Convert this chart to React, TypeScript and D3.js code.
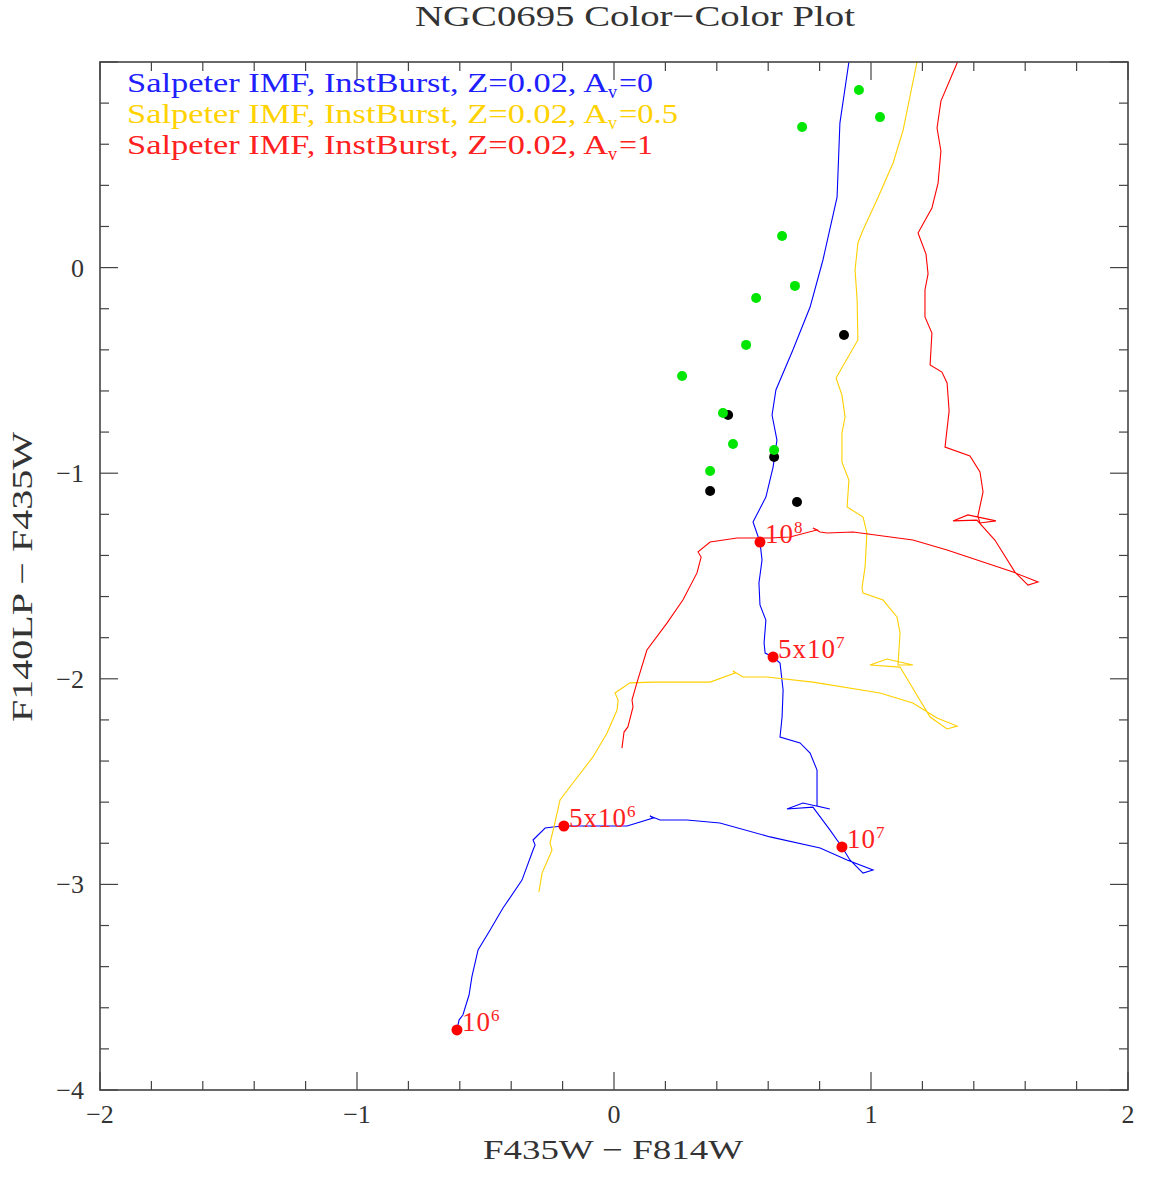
import React from "react";
import * as d3 from "d3";

// Starburst99-style colour tracks, instantaneous burst, Salpeter IMF, Z=0.02
// [F435W-F814W, F140LP-F435W]
const trackAv0: [number, number][] = [
  [-0.607, -3.728], [-0.611, -3.708], [-0.603, -3.66], [-0.588, -3.635], [-0.564, -3.538],
  [-0.553, -3.45], [-0.529, -3.319], [-0.482, -3.222], [-0.432, -3.115], [-0.358, -2.979],
  [-0.315, -2.833], [-0.307, -2.808], [-0.315, -2.784], [-0.268, -2.726], [-0.237, -2.721],
  [-0.195, -2.716], [0.051, -2.716], [0.152, -2.677], [0.14, -2.667], [0.179, -2.687],
  [0.284, -2.687], [0.412, -2.701], [0.607, -2.769], [0.802, -2.823], [0.907, -2.881],
  [1.008, -2.93], [0.969, -2.945], [0.918, -2.881], [0.887, -2.818], [0.84, -2.735],
  [0.774, -2.624], [0.673, -2.633], [0.735, -2.604], [0.84, -2.633], [0.79, -2.619],
  [0.79, -2.507], [0.79, -2.444], [0.763, -2.361], [0.724, -2.312], [0.646, -2.283],
  [0.654, -2.186], [0.658, -2.054], [0.646, -1.923], [0.619, -1.894], [0.588, -1.875],
  [0.584, -1.826], [0.591, -1.714], [0.568, -1.641], [0.564, -1.534], [0.576, -1.422],
  [0.568, -1.335], [0.541, -1.237], [0.591, -1.116], [0.619, -0.97], [0.634, -0.839],
  [0.615, -0.717], [0.63, -0.595], [0.696, -0.401], [0.763, -0.192], [0.813, 0.037],
  [0.868, 0.343], [0.879, 0.703], [0.914, 1.0], [0.93, 1.1],
];

const trackAv05: [number, number][] = [
  [-0.292, -3.037], [-0.28, -2.945], [-0.241, -2.833], [-0.249, -2.799], [-0.23, -2.701],
  [-0.21, -2.589], [-0.16, -2.507], [-0.082, -2.38], [-0.027, -2.264], [0.012, -2.152],
  [0.016, -2.103], [0.004, -2.069], [0.062, -2.02], [0.152, -2.016], [0.374, -2.016],
  [0.471, -1.972], [0.463, -1.962], [0.502, -1.991], [0.595, -1.991], [0.774, -2.016],
  [1.035, -2.069], [1.163, -2.118], [1.257, -2.191], [1.335, -2.23], [1.296, -2.244],
  [1.23, -2.186], [1.113, -1.943], [0.996, -1.933], [1.062, -1.904], [1.163, -1.933],
  [1.105, -1.933], [1.113, -1.777], [1.101, -1.699], [1.047, -1.617], [0.969, -1.583],
  [0.965, -1.558], [0.977, -1.456], [0.984, -1.291], [0.969, -1.213], [0.907, -1.164],
  [0.914, -1.033], [0.887, -0.946], [0.887, -0.804], [0.899, -0.727], [0.887, -0.62],
  [0.864, -0.537], [0.949, -0.352], [0.946, -0.158], [0.938, -0.012], [0.949, 0.12],
  [0.969, 0.183], [1.023, 0.329], [1.086, 0.509], [1.125, 0.669], [1.179, 1.0], [1.2, 1.1],
];

const trackAv1: [number, number][] = [
  [0.031, -2.337], [0.039, -2.259], [0.054, -2.234], [0.074, -2.137], [0.07, -2.103],
  [0.089, -2.02], [0.128, -1.86], [0.206, -1.729], [0.268, -1.617], [0.323, -1.485],
  [0.339, -1.408], [0.327, -1.383], [0.374, -1.335], [0.479, -1.315], [0.607, -1.315],
  [0.685, -1.31], [0.79, -1.276], [0.774, -1.267], [0.802, -1.286], [0.829, -1.291],
  [0.93, -1.286], [1.163, -1.325], [1.296, -1.374], [1.553, -1.481], [1.65, -1.529],
  [1.611, -1.544], [1.56, -1.481], [1.482, -1.325], [1.412, -1.228], [1.319, -1.232],
  [1.377, -1.203], [1.486, -1.232], [1.424, -1.242], [1.416, -1.208], [1.436, -1.091],
  [1.424, -0.994], [1.385, -0.916], [1.288, -0.873], [1.304, -0.697], [1.296, -0.561],
  [1.276, -0.508], [1.23, -0.474], [1.237, -0.318], [1.21, -0.24], [1.21, -0.109],
  [1.222, -0.031], [1.214, 0.066], [1.183, 0.168], [1.237, 0.29], [1.261, 0.411],
  [1.272, 0.567], [1.257, 0.679], [1.272, 0.81], [1.335, 0.995], [1.36, 1.1],
];

// observed clusters
const blackClusters: [number, number][] = [
  [0.895, -0.328], [0.444, -0.717], [0.623, -0.921], [0.374, -1.087], [0.712, -1.14],
];

const greenClusters: [number, number][] = [
  [0.953, 0.864], [1.035, 0.732], [0.732, 0.684], [0.654, 0.154], [0.704, -0.089],
  [0.553, -0.148], [0.514, -0.376], [0.265, -0.527], [0.424, -0.707], [0.463, -0.858],
  [0.623, -0.887], [0.374, -0.989],
];

// age markers on the A_v=0 track
const ageBase = ["10", "5x10", "10", "5x10", "10"];
const ageExp = ["6", "6", "7", "7", "8"];
const agePoints: [number, number][] = [
  [-0.611, -3.708], [-0.195, -2.716], [0.887, -2.818], [0.619, -1.894], [0.568, -1.335],
];

const legendMain = "Salpeter IMF, InstBurst, Z=0.02, A";
const legendAv = ["=0", "=0.5", "=1"];
const legendColors = ["#2020ff", "#ffd200", "#ff2020"];
const lineColors = ["#0000ff", "#ffd000", "#ff0000"];

const xTicks = [-2, -1, 0, 1, 2];
const yTicks = [-4, -3, -2, -1, 0];

const W = 1171;
const H = 1177;
const left = 100;
const right = 1128;
const top = 62;
const bottom = 1090;

const fmt = (v: number) => (v < 0 ? "\u2212" + Math.abs(v) : String(v));

export default function App() {
  const x = d3.scaleLinear().domain([-2, 2]).range([left, right]);
  const y = d3.scaleLinear().domain([-4, 1]).range([bottom, top]);
  const line = d3
    .line<[number, number]>()
    .x((d) => x(d[0]))
    .y((d) => y(d[1]));

  const font = "'Liberation Serif', 'DejaVu Serif', serif";
  const axisColor = "#444";
  const textColor = "#333";

  const minorX = d3.range(-2, 2.0001, 0.2).map((v) => +v.toFixed(1));
  const minorY = d3.range(-4, 1.0001, 0.2).map((v) => +v.toFixed(1));
  const isMajor = (v: number) => Math.abs(v - Math.round(v)) < 1e-6;
  const tracks = [trackAv0, trackAv05, trackAv1];

  return (
    <svg
      width={W}
      height={H}
      style={{ position: "absolute", left: 0, top: 0, background: "#fff" }}
      fontFamily={font}
    >
      <defs>
        <clipPath id="plot">
          <rect x={left} y={top} width={right - left} height={bottom - top} />
        </clipPath>
      </defs>

      <text x={415} y={26} fontSize={30} fill={textColor} textLength={440} lengthAdjust="spacingAndGlyphs">
        NGC0695 Color{"\u2212"}Color Plot
      </text>

      {/* tracks */}
      <g clipPath="url(#plot)" fill="none">
        {tracks.map((t, i) => (
          <path key={i} d={line(t) ?? ""} stroke={lineColors[i]} strokeWidth={1.1} />
        ))}
      </g>

      {/* clusters */}
      {blackClusters.map((d, i) => (
        <circle key={"b" + i} cx={x(d[0])} cy={y(d[1])} r={5} fill="#000" />
      ))}
      {greenClusters.map((d, i) => (
        <circle key={"g" + i} cx={x(d[0])} cy={y(d[1])} r={5} fill="#00e600" />
      ))}

      {/* age markers */}
      {agePoints.map((d, i) => (
        <g key={"a" + i}>
          <circle cx={x(d[0])} cy={y(d[1])} r={5.5} fill="#ff0000" />
          <text x={x(d[0]) + 5} y={y(d[1]) + 1} fontSize={27} fill="#ff2020" letterSpacing={1}>
            {ageBase[i]}
            <tspan fontSize={17} dy={-10}>
              {ageExp[i]}
            </tspan>
          </text>
        </g>
      ))}

      {/* legend */}
      {legendAv.map((s, i) => {
        const by = 92 + i * 31;
        return (
          <g key={"l" + i} fill={legendColors[i]} fontSize={28}>
            <text x={127} y={by} textLength={481} lengthAdjust="spacingAndGlyphs">
              {legendMain}
            </text>
            <text x={608} y={by + 6} fontSize={18}>
              v
            </text>
            <text x={619} y={by} textLength={i === 1 ? 59 : 34} lengthAdjust="spacingAndGlyphs">
              {s}
            </text>
          </g>
        );
      })}

      {/* frame */}
      <rect
        x={left}
        y={top}
        width={right - left}
        height={bottom - top}
        fill="none"
        stroke={axisColor}
        strokeWidth={1.6}
      />

      {/* ticks, all four sides */}
      <g stroke={axisColor} strokeWidth={1.2}>
        {minorX.map((v) => {
          const len = isMajor(v) ? 18 : 9;
          return (
            <g key={"tx" + v}>
              <line x1={x(v)} x2={x(v)} y1={bottom} y2={bottom - len} />
              <line x1={x(v)} x2={x(v)} y1={top} y2={top + len} />
            </g>
          );
        })}
        {minorY.map((v) => {
          const len = isMajor(v) ? 18 : 9;
          return (
            <g key={"ty" + v}>
              <line x1={left} x2={left + len} y1={y(v)} y2={y(v)} />
              <line x1={right} x2={right - len} y1={y(v)} y2={y(v)} />
            </g>
          );
        })}
      </g>

      {/* tick labels */}
      <g fill={textColor} fontSize={26}>
        {xTicks.map((v) => (
          <text key={"lx" + v} x={x(v)} y={1123} textAnchor="middle">
            {fmt(v)}
          </text>
        ))}
        {yTicks.map((v) => (
          <text key={"ly" + v} x={84} y={y(v) + 9} textAnchor="end">
            {fmt(v)}
          </text>
        ))}
      </g>

      {/* axis titles */}
      <text x={483} y={1159} fontSize={28} fill={textColor} textLength={260} lengthAdjust="spacingAndGlyphs">
        F435W {"\u2212"} F814W
      </text>
      <text
        transform="translate(32,722) rotate(-90)"
        fontSize={30}
        fill={textColor}
        textLength={290}
        lengthAdjust="spacingAndGlyphs"
      >
        F140LP {"\u2212"} F435W
      </text>
    </svg>
  );
}
